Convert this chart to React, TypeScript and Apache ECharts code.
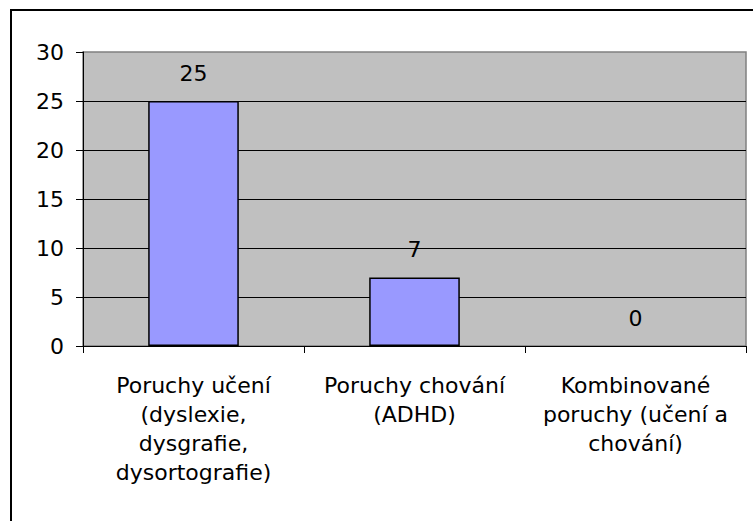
import React, { useEffect, useRef } from "react";
import * as echarts from "echarts";

const categories = [
  "Poruchy učení\n(dyslexie,\ndysgrafie,\ndysortografie)",
  "Poruchy chování\n(ADHD)",
  "Kombinované\nporuchy (učení a\nchování)",
];
const values = [25, 7, 0];
const yMin = 0;
const yMax = 30;
const yInterval = 5;

export default function App() {
  const ref = useRef<HTMLDivElement>(null);
  useEffect(() => {
    if (!ref.current) return;
    const chart = echarts.init(ref.current, undefined, { renderer: "svg" });
    const font = "DejaVu Sans";
    chart.setOption({
      animation: false,
      backgroundColor: "#ffffff",
      textStyle: { fontFamily: font, color: "#000" },
      grid: {
        left: 83,
        top: 52,
        right: 7,
        bottom: 175,
        show: true,
        backgroundColor: "#C0C0C0",
        borderColor: "#808080",
        borderWidth: 1.5,
        containLabel: false,
      },
      xAxis: {
        type: "category",
        data: categories,
        axisLine: { show: true, lineStyle: { color: "#000", width: 1 } },
        axisTick: { show: true, length: 7, lineStyle: { color: "#000" } },
        axisLabel: {
          margin: 25,
          fontFamily: font,
          fontSize: 22,
          lineHeight: 29,
          color: "#000",
          interval: 0,
          align: "center",
        },
        splitLine: { show: false },
      },
      yAxis: {
        type: "value",
        min: yMin,
        max: yMax,
        interval: yInterval,
        axisLine: { show: true, lineStyle: { color: "#000", width: 1 } },
        axisTick: { show: true, length: 7, lineStyle: { color: "#000" } },
        axisLabel: {
          margin: 19,
          fontFamily: font,
          fontSize: 22,
          color: "#000",
        },
        splitLine: {
          show: true,
          showMaxLine: false,
          lineStyle: { color: "#000", width: 1 },
        },
      },
      series: [
        {
          type: "bar",
          data: values.map((v) =>
            v === 0 ? { value: v, itemStyle: { borderWidth: 0 } } : v
          ),
          barWidth: "41%",
          itemStyle: { color: "#9999FF", borderColor: "#000", borderWidth: 1.5 },
          label: {
            show: true,
            position: "top",
            distance: 17,
            fontFamily: font,
            fontSize: 22,
            color: "#000",
          },
        },
      ],
      graphic: [
        {
          type: "rect",
          shape: { x: 11, y: 10, width: 800, height: 600 },
          style: { fill: "none", stroke: "#000", lineWidth: 2 },
          silent: true,
          z: 100,
        },
      ],
    });
    return () => chart.dispose();
  }, []);
  return (
    <div
      ref={ref}
      style={{ position: "fixed", left: 0, top: 0, width: 753, height: 521 }}
    />
  );
}
